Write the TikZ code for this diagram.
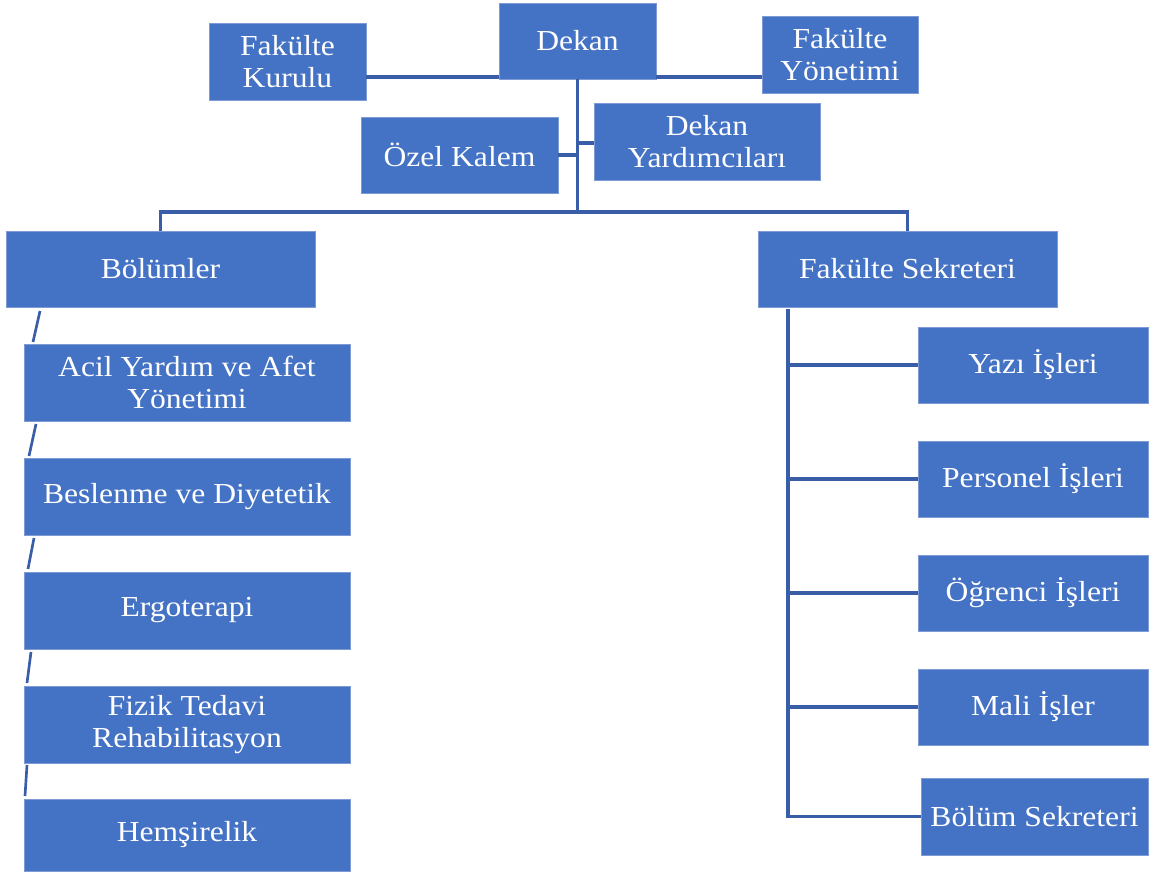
\documentclass[tikz,border=0pt]{standalone}
\usepackage{fontspec}
\setmainfont{Liberation Serif}[FakeStretch=1.09]
\definecolor{boxblue}{HTML}{4472C4}
\definecolor{boxedge}{HTML}{7E9BD6}
\definecolor{linkblue}{HTML}{3A5DA8}
\tikzset{
  box/.style={rectangle, fill=boxblue, draw=boxedge, line width=0.4pt, inner sep=0pt,
    text=white, align=center, font=\fontsize{21.75pt}{24pt}\selectfont},
  conn/.style={draw=linkblue, line width=2.4pt},
  slant/.style={draw=linkblue, line width=2pt}
}
\newcommand\bx[6]{\node[box, minimum width={(#4-#2)*0.75pt}, minimum height={(#5-#3)*0.75pt}] (#1) at ({(#2+#4)/2},{(#3+#5)/2}) {#6};}
\begin{document}
\begin{tikzpicture}[x=0.75pt,y=-0.75pt]
\useasboundingbox (0,0) rectangle (1149,872);
% top level
\bx{dekan}{499}{3}{656}{79}{Dekan}
\bx{kurulu}{209}{23}{366}{100}{Fakülte\\Kurulu}
\bx{yonetim}{762}{16}{918}{93}{Fakülte\\Yönetimi}
\bx{ozel}{361}{117}{558}{193}{Özel Kalem}
\bx{yard}{594}{103}{820}{180}{Dekan\\Yardımcıları}
\bx{bol}{6}{231}{315}{307}{Bölümler}
\bx{fs}{758}{231}{1057}{307}{Fakülte Sekreteri}
% departments
\bx{acil}{24}{344}{350}{421}{Acil Yardım ve Afet\\Yönetimi}
\bx{besl}{24}{458}{350}{535}{Beslenme ve Diyetetik}
\bx{ergo}{24}{572}{350}{649}{Ergoterapi}
\bx{fizik}{24}{686}{350}{763}{Fizik Tedavi\\Rehabilitasyon}
\bx{hems}{24}{799}{350}{871}{Hemşirelik}
% secretariat units
\bx{yazi}{918}{327}{1148}{403}{Yazı İşleri}
\bx{pers}{918}{441}{1148}{517}{Personel İşleri}
\bx{ogr}{918}{555}{1148}{631}{Öğrenci İşleri}
\bx{mali}{918}{669}{1148}{745}{Mali İşler}
\bx{bsek}{921}{778}{1148}{855}{Bölüm Sekreteri}
% coordinates
\coordinate (yline) at (0,77);
\coordinate (hub) at (577.5,212);
\coordinate (fsv) at (788,309);
% top connectors
\draw[conn] (kurulu.east |- yline) -- (dekan.west |- yline);
\draw[conn] (dekan.east |- yline) -- (yonetim.west |- yline);
\draw[conn] (dekan.south) -- (hub);
\draw[conn] (ozel.east) -- (ozel.east -| hub);
\draw[conn] ([yshift=-1.1pt]yard.west) -- ([yshift=-1.1pt]yard.west -| hub);
\draw[conn] (bol.north) |- (hub) -| (fs.north);
% secretariat connectors
\draw[conn] (fsv) |- (bsek.west);
\draw[conn] (yazi.west) -- (yazi.west -| fsv);
\draw[conn] (pers.west) -- (pers.west -| fsv);
\draw[conn] (ogr.west) -- (ogr.west -| fsv);
\draw[conn] (mali.west) -- (mali.west -| fsv);
% department slanted links
\coordinate (a1) at (40,311); \coordinate (b1) at (33,342);
\coordinate (a2) at (36,424); \coordinate (b2) at (29,456);
\coordinate (a3) at (34,538); \coordinate (b3) at (28,569);
\coordinate (a4) at (31,652); \coordinate (b4) at (27,683);
\coordinate (a5) at (27,765); \coordinate (b5) at (25,796);
\draw[slant] (a1) -- (b1);
\draw[slant] (a2) -- (b2);
\draw[slant] (a3) -- (b3);
\draw[slant] (a4) -- (b4);
\draw[slant] (a5) -- (b5);
\end{tikzpicture}
\end{document}
